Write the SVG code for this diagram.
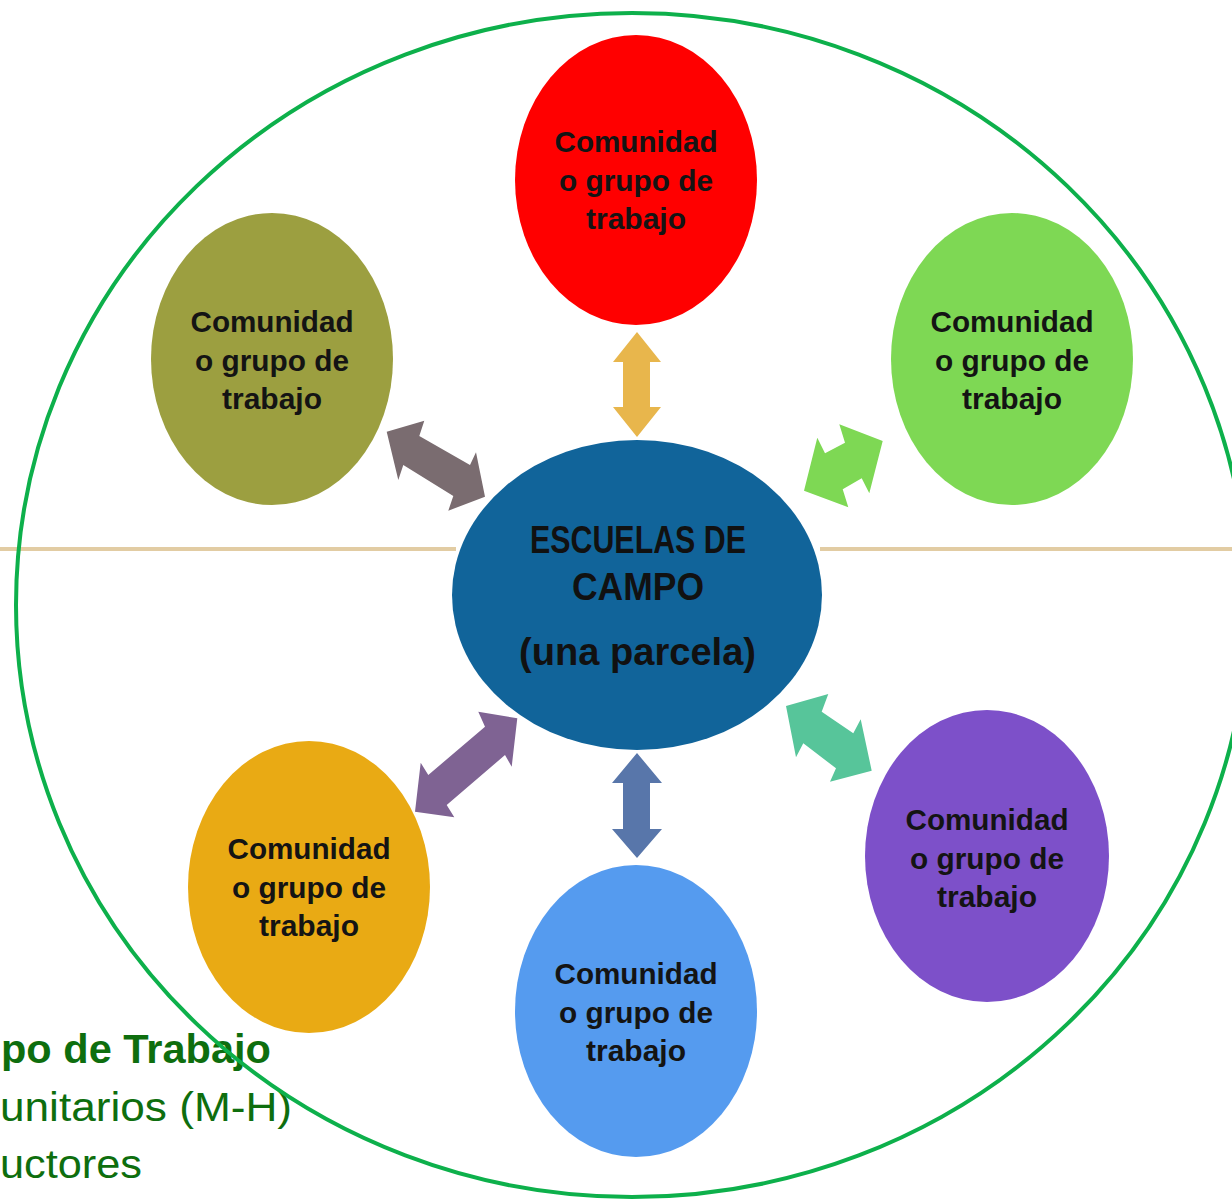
<svg xmlns="http://www.w3.org/2000/svg" width="1232" height="1199" viewBox="0 0 1232 1199">
  <style>
    .node-label { font-family: "Liberation Sans", Arial, sans-serif; font-weight: bold; font-size: 30px; fill: #141414; text-anchor: middle; }
    .hub-label { font-family: "Liberation Sans", Arial, sans-serif; font-weight: bold; font-size: 38px; fill: #111111; text-anchor: middle; }
    .side-text { font-family: "Liberation Sans", Arial, sans-serif; font-size: 40px; fill: #0E6E0E; }
  </style>
  <rect width="1232" height="1199" fill="#FFFFFF"/>

  <!-- horizontal divider -->
  <g id="divider" stroke="#E2CCA3" stroke-width="4">
    <line x1="0" y1="549" x2="456" y2="549"/>
    <line x1="820" y1="549" x2="1232" y2="549"/>
  </g>

  <!-- side legend text -->
  <g id="legend">
    <text class="side-text" x="1" y="1063" font-weight="bold" textLength="270" lengthAdjust="spacingAndGlyphs">po de Trabajo</text>
    <text class="side-text" x="0" y="1121" textLength="292" lengthAdjust="spacingAndGlyphs">unitarios (M-H)</text>
    <text class="side-text" x="0" y="1178" textLength="142" lengthAdjust="spacingAndGlyphs">uctores</text>
  </g>

  <!-- outer boundary -->
  <ellipse id="boundary" cx="632" cy="605" rx="616" ry="592" fill="none" stroke="#0DB04B" stroke-width="4"/>

  <!-- satellite nodes -->
  <g id="node-top">
    <ellipse cx="636" cy="180" rx="121" ry="145" fill="#FF0000"/>
    <text class="node-label" x="636" y="152" textLength="163" lengthAdjust="spacingAndGlyphs">Comunidad</text>
    <text class="node-label" x="636" y="191" textLength="154" lengthAdjust="spacingAndGlyphs">o grupo de</text>
    <text class="node-label" x="636" y="229" textLength="100" lengthAdjust="spacingAndGlyphs">trabajo</text>
  </g>
  <g id="node-upper-left">
    <ellipse cx="272" cy="359" rx="121" ry="146" fill="#9C9F40"/>
    <text class="node-label" x="272" y="332" textLength="163" lengthAdjust="spacingAndGlyphs">Comunidad</text>
    <text class="node-label" x="272" y="371" textLength="154" lengthAdjust="spacingAndGlyphs">o grupo de</text>
    <text class="node-label" x="272" y="409" textLength="100" lengthAdjust="spacingAndGlyphs">trabajo</text>
  </g>
  <g id="node-upper-right">
    <ellipse cx="1012" cy="359" rx="121" ry="146" fill="#7ED854"/>
    <text class="node-label" x="1012" y="332" textLength="163" lengthAdjust="spacingAndGlyphs">Comunidad</text>
    <text class="node-label" x="1012" y="371" textLength="154" lengthAdjust="spacingAndGlyphs">o grupo de</text>
    <text class="node-label" x="1012" y="409" textLength="100" lengthAdjust="spacingAndGlyphs">trabajo</text>
  </g>
  <g id="node-lower-left">
    <ellipse cx="309" cy="887" rx="121" ry="146" fill="#E9AA14"/>
    <text class="node-label" x="309" y="859" textLength="163" lengthAdjust="spacingAndGlyphs">Comunidad</text>
    <text class="node-label" x="309" y="898" textLength="154" lengthAdjust="spacingAndGlyphs">o grupo de</text>
    <text class="node-label" x="309" y="936" textLength="100" lengthAdjust="spacingAndGlyphs">trabajo</text>
  </g>
  <g id="node-bottom">
    <ellipse cx="636" cy="1011" rx="121" ry="146" fill="#559BEF"/>
    <text class="node-label" x="636" y="984" textLength="163" lengthAdjust="spacingAndGlyphs">Comunidad</text>
    <text class="node-label" x="636" y="1023" textLength="154" lengthAdjust="spacingAndGlyphs">o grupo de</text>
    <text class="node-label" x="636" y="1061" textLength="100" lengthAdjust="spacingAndGlyphs">trabajo</text>
  </g>
  <g id="node-lower-right">
    <ellipse cx="987" cy="856" rx="122" ry="146" fill="#7D50C9"/>
    <text class="node-label" x="987" y="830" textLength="163" lengthAdjust="spacingAndGlyphs">Comunidad</text>
    <text class="node-label" x="987" y="869" textLength="154" lengthAdjust="spacingAndGlyphs">o grupo de</text>
    <text class="node-label" x="987" y="907" textLength="100" lengthAdjust="spacingAndGlyphs">trabajo</text>
  </g>

  <!-- central hub -->
  <g id="hub">
    <ellipse cx="637" cy="595" rx="185" ry="155" fill="#11649A"/>
    <text class="hub-label" x="638" y="553" textLength="216" lengthAdjust="spacingAndGlyphs">ESCUELAS DE</text>
    <text class="hub-label" x="638" y="600" textLength="132" lengthAdjust="spacingAndGlyphs">CAMPO</text>
    <text class="hub-label" x="637.5" y="665" textLength="237" lengthAdjust="spacingAndGlyphs">(una parcela)</text>
  </g>

  <!-- double-headed connectors -->
  <g id="connectors">
    <polygon fill="#E8B64C" points="637,332 661,362 650,362 650,407 661,407 637,437 613,407 623,407 623,362 613,362"/>
    <polygon fill="#5876AA" points="637,753 662,783 650,783 650,829 662,829 637,858 612,829 623,829 623,783 612,783"/>
    <polygon fill="#7A6C70" points="386.7,431.7 424.3,420.7 419.3,436 470,465 476,452.3 485,496.7 448.3,510.7 453.3,496 403.3,465 398.3,480"/>
    <polygon fill="#7ED854" points="882.7,441 869.3,493.3 861.7,478.3 842.7,489.3 848.3,507.3 804,490.7 817.3,437.7 825,453.3 845,442.7 839.3,424.3"/>
    <polygon fill="#7F6393" points="517.3,718.3 511.7,766.7 505,755 446.7,805 454.3,817.3 415,811.7 420.7,762.7 428.3,775 485,726.7 478.3,711.7"/>
    <polygon fill="#57C59A" points="786,706 828.3,694 821.7,711.7 853.3,733.3 860.7,719.3 871.7,770.7 830,781.7 836,768.3 803.3,743.3 796,757.3"/>
  </g>
</svg>
